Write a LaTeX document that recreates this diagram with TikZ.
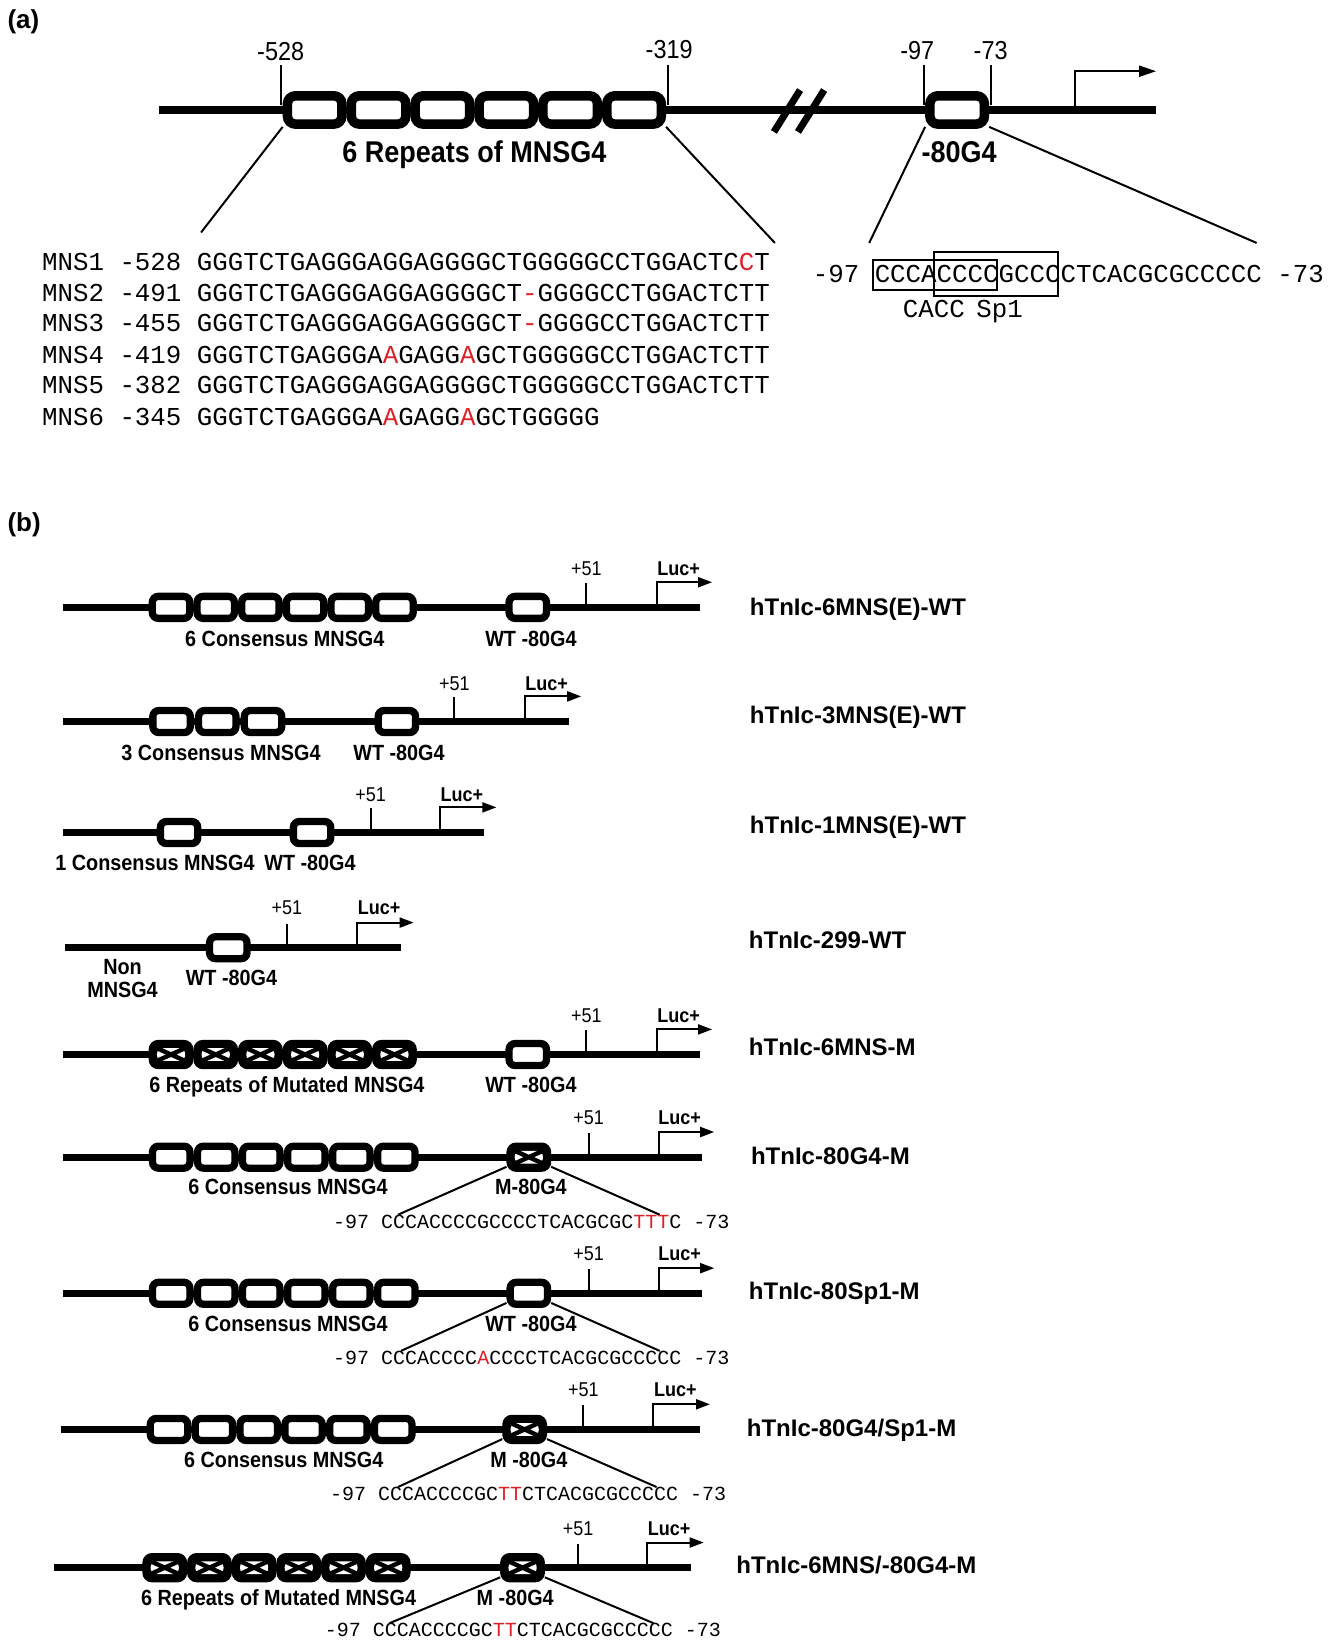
\documentclass[tikz,border=0pt]{standalone}
\usepackage{fontspec}
\usepackage{graphicx}
\setmainfont{Liberation Sans}
\newfontfamily\seqfont{Liberation Mono}
\usetikzlibrary{arrows.meta}
\definecolor{seqred}{RGB}{222,32,40}
\newcommand\rd[1]{\textcolor{seqred}{#1}}
\newcommand\cond[1]{\scalebox{0.9}[1]{#1}}
\newcommand\fpanel{\fontsize{26}{30}\selectfont\bfseries}
\newcommand\fnumA{\fontsize{26}{30}\selectfont}
\newcommand\flabA{\fontsize{30}{34}\selectfont\bfseries}
\newcommand\fseqA{\fontsize{25.8}{30}\selectfont\seqfont}
\newcommand\fseqB{\fontsize{20}{24}\selectfont\seqfont}
\newcommand\flabB{\fontsize{22}{26}\selectfont\bfseries}
\newcommand\fsmall{\fontsize{20}{24}\selectfont}
\newcommand\fsmallb{\fontsize{20}{24}\selectfont\bfseries}
\newcommand\fname{\fontsize{24}{28}\selectfont\bfseries}
\begin{document}
\begin{tikzpicture}[x=1.047pt,y=-1.047pt,
  dnaA/.style={line width=8.4pt},
  dnaB/.style={line width=7.3pt},
  tk/.style={line width=2pt},
  arrA/.style={tk,-{Triangle[length=17pt,width=11pt]}},
  arrB/.style={tk,-{Triangle[length=14pt,width=10pt]}},
  gA/.style={draw,fill=white,line width=9.5pt,rounded corners=8pt,minimum width=54.5pt,minimum height=28.3pt,inner sep=0pt},
  gB/.style={draw,fill=white,line width=7.3pt,rounded corners=6pt,minimum width=37.4pt,minimum height=22pt,inner sep=0pt},
  mB/.style={gB,fill=black,path picture={
     \fill[white] ([shift={(4.6pt,4.6pt)}]path picture bounding box.south west) rectangle ([shift={(-4.6pt,-4.6pt)}]path picture bounding box.north east);
     \draw[black,line width=4.4pt] ([shift={(4.6pt,4.6pt)}]path picture bounding box.south west) -- ([shift={(-4.6pt,-4.6pt)}]path picture bounding box.north east)
        ([shift={(4.6pt,-4.6pt)}]path picture bounding box.north west) -- ([shift={(-4.6pt,4.6pt)}]path picture bounding box.south east);}},
  seqA/.style={anchor=base west,inner sep=0pt,font=\fseqA},
  seqB/.style={anchor=base west,inner sep=0pt,font=\fseqB},
  numA/.style={anchor=base,inner sep=0pt,font=\fnumA},
  labA/.style={anchor=base,inner sep=0pt,font=\flabA},
  numB/.style={anchor=base,inner sep=0pt,font=\fsmall},
  lucB/.style={anchor=base,inner sep=0pt,font=\fsmallb},
  labB/.style={anchor=base,inner sep=0pt,font=\flabB},
  nameB/.style={anchor=base west,inner sep=0pt,font=\fname},
  panel/.style={anchor=west,inner sep=0pt,font=\fpanel},
  boxln/.style={line width=1.8pt}
]
\useasboundingbox[fill=white] (0,0) rectangle (1274,1568);

% ---------------- panel (a)
\node[panel] (pa) at (7,21) {(a)};
\draw[dnaA] (152,105) -- (1104,105);
\foreach \i in {1,...,6} \node[gA] (a\i) at ({270+61*(\i-0.5)},105) {};
\node[gA] (g80) at (914,105) {};
\draw[line width=7pt] (739,126) -- (764,86);
\draw[line width=7pt] (762,126) -- (787,86);
\coordinate (t528) at (268,62); \coordinate (t319) at (638,62);
\coordinate (t97) at (882,62); \coordinate (t73) at (946,62);
\draw[tk] (t528) -- (268,100);
\draw[tk] (t319) -- (638,100);
\draw[tk] (t97) -- (882,100);
\draw[tk] (t73) -- (946,100);
\node[numA] (l528) at (268,58) {\cond{-528}};
\node[numA] (l319) at (639,56) {\cond{-319}};
\node[numA] (l97) at (876,57) {\cond{-97}};
\node[numA] (l73) at (946,57) {\cond{-73}};
\coordinate (tssA) at (1027,105);
\draw[arrA] (tssA) -- (1027,68) -- (1104,68);
\node[labA] (rep6) at (453,155) {\cond{6 Repeats of MNSG4}};
\node[labA] (lg80) at (916,155) {\cond{-80G4}};
\coordinate (e1) at (192,222); \coordinate (e2) at (740,232);
\coordinate (e3) at (830,232); \coordinate (e4) at (1200,232);
\draw[tk] ([yshift=2pt]a1.south west) -- (e1);
\draw[tk] ([yshift=2pt]a6.south east) -- (e2);
\draw[tk] ([yshift=2pt]g80.south west) -- (e3);
\draw[tk] ([yshift=2pt]g80.south east) -- (e4);

\node[seqA] (m1) at (40,258) {MNS1 -528 GGGTCTGAGGGAGGAGGGGCTGGGGGCCTGGACTC\rd{C}T};
\node[seqA] (m2) at (40,288) {MNS2 -491 GGGTCTGAGGGAGGAGGGGCT\rd{-}GGGGCCTGGACTCTT};
\node[seqA] (m3) at (40,317) {MNS3 -455 GGGTCTGAGGGAGGAGGGGCT\rd{-}GGGGCCTGGACTCTT};
\node[seqA] (m4) at (40,347) {MNS4 -419 GGGTCTGAGGGA\rd{A}GAGG\rd{A}GCTGGGGGCCTGGACTCTT};
\node[seqA] (m5) at (40,376) {MNS5 -382 GGGTCTGAGGGAGGAGGGGCTGGGGGCCTGGACTCTT};
\node[seqA] (m6) at (40,406) {MNS6 -345 GGGTCTGAGGGA\rd{A}GAGG\rd{A}GCTGGGGG};

\node[seqA] (sR) at (776,270) {-97 CCCACCCCGCCCCTCACGCGCCCCC -73};
\draw[boxln] (834,248) rectangle (952,277);
\draw[boxln] (892,241) rectangle (1010,283);
\node[seqA] (sp1) at (862,303) {CACC\kern-0.15em\ Sp1};

% ---------------- panel (b)
\node[panel] (pb) at (7,501) {(b)};

% row 1
\draw[dnaB] (60,580) -- (668,580);
\foreach \i in {1,...,6} \node[gB] (r1b\i) at ({142+42.67*(\i-0.5)},580) {};
\node[gB] (r1g) at (504,580) {};
\draw[tk] (560,580) -- (560,557);
\draw[arrB] (627,580) -- (627,556) -- (680,556);
\node[numB] (r1p) at (560,550) {\cond{+51}};
\node[lucB] (r1l) at (648,550) {\cond{Luc+}};
\node[labB] (r1a) at (272,617) {\cond{6 Consensus MNSG4}};
\node[labB] (r1c) at (507,617) {\cond{WT -80G4}};
\node[nameB] (r1n) at (716,588) {hTnIc-6MNS(E)-WT};

% row 2
\draw[dnaB] (60,689) -- (543,689);
\foreach \i in {1,...,3} \node[gB] (r2b\i) at ({142+43.67*(\i-0.5)},689) {};
\node[gB] (r2g) at (379,689) {};
\draw[tk] (434,689) -- (434,666);
\draw[arrB] (501,689) -- (501,665) -- (555,665);
\node[numB] (r2p) at (434,659) {\cond{+51}};
\node[lucB] (r2l) at (522,659) {\cond{Luc+}};
\node[labB] (r2a) at (211,726) {\cond{3 Consensus MNSG4}};
\node[labB] (r2c) at (381,726) {\cond{WT -80G4}};
\node[nameB] (r2n) at (716,691) {hTnIc-3MNS(E)-WT};

% row 3
\draw[dnaB] (60,795) -- (462,795);
\node[gB] (r3b1) at (171,795) {};
\node[gB] (r3g) at (298,795) {};
\draw[tk] (354,795) -- (354,772);
\draw[arrB] (420,795) -- (420,771) -- (474,771);
\node[numB] (r3p) at (354,765) {\cond{+51}};
\node[lucB] (r3l) at (441,765) {\cond{Luc+}};
\node[labB] (r3a) at (148,831) {\cond{1 Consensus MNSG4}};
\node[labB] (r3c) at (296,831) {\cond{WT -80G4}};
\node[nameB] (r3n) at (716,796) {hTnIc-1MNS(E)-WT};

% row 4
\draw[dnaB] (62,905) -- (383,905);
\node[gB] (r4g) at (218,905) {};
\draw[tk] (274,905) -- (274,882);
\draw[arrB] (341,905) -- (341,881) -- (395,881);
\node[numB] (r4p) at (274,873) {\cond{+51}};
\node[lucB] (r4l) at (362,873) {\cond{Luc+}};
\node[labB] (r4a) at (117,931) {\cond{Non}};
\node[labB] (r4b) at (117,953) {\cond{MNSG4}};
\node[labB] (r4c) at (221,941) {\cond{WT -80G4}};
\node[nameB] (r4n) at (715,906) {hTnIc-299-WT};

% row 5
\draw[dnaB] (60,1007) -- (668,1007);
\foreach \i in {1,...,6} \node[mB] (r5b\i) at ({142+42.67*(\i-0.5)},1007) {};
\node[gB] (r5g) at (504,1007) {};
\draw[tk] (560,1007) -- (560,984);
\draw[arrB] (627,1007) -- (627,983) -- (680,983);
\node[numB] (r5p) at (560,976) {\cond{+51}};
\node[lucB] (r5l) at (648,976) {\cond{Luc+}};
\node[labB] (r5a) at (274,1043) {\cond{6 Repeats of Mutated MNSG4}};
\node[labB] (r5c) at (507,1043) {\cond{WT -80G4}};
\node[nameB] (r5n) at (715,1008) {hTnIc-6MNS-M};

% row 6
\draw[dnaB] (60,1105) -- (670,1105);
\foreach \i in {1,...,6} \node[gB] (r6b\i) at ({142+43*(\i-0.5)},1105) {};
\node[mB] (r6g) at (505,1105) {};
\draw[tk] (562,1105) -- (562,1082);
\draw[arrB] (629,1105) -- (629,1081) -- (682,1081);
\node[numB] (r6p) at (562,1074) {\cond{+51}};
\node[lucB] (r6l) at (649,1074) {\cond{Luc+}};
\node[labB] (r6a) at (275,1141) {\cond{6 Consensus MNSG4}};
\node[labB] (r6c) at (507,1141) {\cond{M-80G4}};
\coordinate (r6e1) at (380,1160); \coordinate (r6e2) at (630,1160);
\draw[tk] ([yshift=5pt]r6g.south west) -- (r6e1);
\draw[tk] ([yshift=5pt]r6g.south east) -- (r6e2);
\node[seqB] (r6s) at (318,1173) {-97 CCCACCCCGCCCCTCACGCGC\rd{TTT}C -73};
\node[nameB] (r6n) at (717,1112) {hTnIc-80G4-M};

% row 7
\draw[dnaB] (60,1235) -- (670,1235);
\foreach \i in {1,...,6} \node[gB] (r7b\i) at ({142+43*(\i-0.5)},1235) {};
\node[gB] (r7g) at (505,1235) {};
\draw[tk] (562,1235) -- (562,1212);
\draw[arrB] (629,1235) -- (629,1211) -- (682,1211);
\node[numB] (r7p) at (562,1204) {\cond{+51}};
\node[lucB] (r7l) at (649,1204) {\cond{Luc+}};
\node[labB] (r7a) at (275,1271) {\cond{6 Consensus MNSG4}};
\node[labB] (r7c) at (507,1271) {\cond{WT -80G4}};
\coordinate (r7e1) at (383,1290); \coordinate (r7e2) at (630,1290);
\draw[tk] ([yshift=5pt]r7g.south west) -- (r7e1);
\draw[tk] ([yshift=5pt]r7g.south east) -- (r7e2);
\node[seqB] (r7s) at (318,1303) {-97 CCCACCCC\rd{A}CCCCTCACGCGCCCCC -73};
\node[nameB] (r7n) at (715,1241) {hTnIc-80Sp1-M};

% row 8
\draw[dnaB] (58,1365) -- (668,1365);
\foreach \i in {1,...,6} \node[gB] (r8b\i) at ({140+42.83*(\i-0.5)},1365) {};
\node[mB] (r8g) at (501,1365) {};
\draw[tk] (557,1365) -- (557,1342);
\draw[arrB] (624,1365) -- (624,1341) -- (678,1341);
\node[numB] (r8p) at (557,1334) {\cond{+51}};
\node[lucB] (r8l) at (645,1334) {\cond{Luc+}};
\node[labB] (r8a) at (271,1401) {\cond{6 Consensus MNSG4}};
\node[labB] (r8c) at (505,1401) {\cond{M -80G4}};
\coordinate (r8e1) at (380,1420); \coordinate (r8e2) at (627,1420);
\draw[tk] ([yshift=5pt]r8g.south west) -- (r8e1);
\draw[tk] ([yshift=5pt]r8g.south east) -- (r8e2);
\node[seqB] (r8s) at (315,1433) {-97 CCCACCCCGC\rd{TT}CTCACGCGCCCCC -73};
\node[nameB] (r8n) at (713,1372) {hTnIc-80G4/Sp1-M};

% row 9
\draw[dnaB] (52,1497) -- (660,1497);
\foreach \i in {1,...,6} \node[mB] (r9b\i) at ({136+42.67*(\i-0.5)},1497) {};
\node[mB] (r9g) at (499,1497) {};
\draw[tk] (552,1497) -- (552,1474);
\draw[arrB] (618,1497) -- (618,1473) -- (672,1473);
\node[numB] (r9p) at (552,1466) {\cond{+51}};
\node[lucB] (r9l) at (639,1466) {\cond{Luc+}};
\node[labB] (r9a) at (266,1533) {\cond{6 Repeats of Mutated MNSG4}};
\node[labB] (r9c) at (492,1533) {\cond{M -80G4}};
\coordinate (r9e1) at (372,1550); \coordinate (r9e2) at (624,1550);
\draw[tk] ([yshift=5pt]r9g.south west) -- (r9e1);
\draw[tk] ([yshift=5pt]r9g.south east) -- (r9e2);
\node[seqB] (r9s) at (310,1563) {-97 CCCACCCCGC\rd{TT}CTCACGCGCCCCC -73};
\node[nameB] (r9n) at (703,1503) {hTnIc-6MNS/-80G4-M};
\end{tikzpicture}
\end{document}
